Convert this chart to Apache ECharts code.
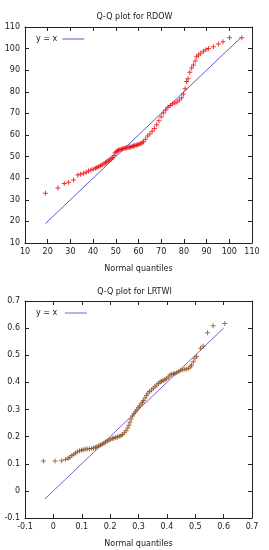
<!DOCTYPE html>
<html><head><meta charset="utf-8">
<script src="https://cdn.jsdelivr.net/npm/echarts@6/dist/echarts.min.js"></script>
<style>html,body{margin:0;padding:0;background:#fff}#c{width:269px;height:550px}</style>
</head><body><div id="c"></div>
<script>
// ---- Data: Q-Q plot for RDOW ----
const rdowQuantiles = [19,24.5,27.3,29.2,31.4,33.3,34.5,35.8,37,38,39,40,41,41.7,42.5,43.3,44,44.8,45.5,46,46.7,47.3,48,48.6,49.2,49.7,50.2,50.7,51.2,51.8,52.4,53,53.6,54.2,54.8,55.4,56,56.6,57.2,57.8,58.4,59,59.6,60.2,60.8,61.5,62.2,63,64,65,66,67,68,69,70,71,72,73,74,75,76,77,78,79,79.8,80.5,81.2,81.8,82.6,83.4,84.2,85,85.6,86.4,87.4,88.6,89.7,90.8,93,95.2,97.2,100.1,105.5];
const rdowValues    = [33,35.5,37.6,38.1,39.2,41.5,41.8,42.3,42.8,43.3,43.8,44.2,44.6,45,45.4,45.8,46.2,46.7,47.1,47.6,48.1,48.5,49,49.6,50.5,51.8,52.2,52.6,53,53.2,53.4,53.6,53.8,54,54.1,54.2,54.3,54.5,54.7,54.9,55.1,55.3,55.5,55.7,55.9,56.4,56.9,58,59.5,60.5,61.7,63,64.8,66.6,68.5,70.2,71.6,72.9,73.7,74.3,74.8,75.3,76.2,77.2,79,81.4,84.8,86,89,91,92.4,94.3,96.2,97,97.8,98.8,99.5,100.1,100.9,102.1,103.2,105,105];
const rdowLine = [19, 105];
const rdowTicks = [10,20,30,40,50,60,70,80,90,100,110];

// ---- Data: Q-Q plot for LRTWI ----
const lrtwiQuantiles = [-0.035,0.006,0.029,0.043,0.052,0.058,0.065,0.072,0.078,0.085,0.092,0.099,0.105,0.112,0.119,0.127,0.135,0.142,0.148,0.154,0.160,0.166,0.172,0.178,0.184,0.190,0.196,0.202,0.208,0.214,0.220,0.226,0.232,0.238,0.244,0.250,0.256,0.262,0.266,0.270,0.274,0.279,0.284,0.289,0.294,0.299,0.304,0.309,0.314,0.318,0.323,0.328,0.333,0.339,0.346,0.352,0.358,0.364,0.370,0.376,0.381,0.387,0.393,0.399,0.405,0.411,0.417,0.423,0.428,0.435,0.442,0.449,0.456,0.463,0.470,0.477,0.483,0.487,0.493,0.499,0.505,0.519,0.528,0.543,0.563,0.604];
const lrtwiValues    = [0.110,0.110,0.111,0.116,0.120,0.124,0.130,0.135,0.140,0.144,0.148,0.150,0.152,0.153,0.154,0.155,0.156,0.158,0.160,0.163,0.166,0.169,0.172,0.176,0.180,0.184,0.187,0.190,0.193,0.195,0.197,0.199,0.201,0.203,0.208,0.214,0.222,0.232,0.242,0.253,0.265,0.276,0.284,0.292,0.299,0.306,0.313,0.320,0.327,0.333,0.342,0.352,0.360,0.366,0.372,0.378,0.384,0.390,0.396,0.401,0.404,0.407,0.410,0.414,0.420,0.427,0.430,0.432,0.433,0.436,0.440,0.445,0.447,0.448,0.449,0.452,0.458,0.464,0.476,0.489,0.495,0.526,0.533,0.583,0.609,0.617];
const lrtwiLine = [-0.03, 0.6];
const lrtwiTicks = [-0.1,0,0.1,0.2,0.3,0.4,0.5,0.6,0.7];

const titles = ['Q-Q plot for RDOW', 'Q-Q plot for LRTWI'];
const xName = 'Normal quantiles';
const legendName = 'y = x';

const pairs = (xs, ys) => xs.map((x, i) => [x, ys[i]]);
const plus = 'path://M0,4H10V6H0Z M4,0H6V10H4Z';
const font = 'DejaVu Sans';
const fs = 8;
const txt = '#1a1a1a';

function axisPair(gi, lo, hi, step, isX) {
  const base = {
    gridIndex: gi, type: 'value', min: lo, max: hi, interval: step,
    axisLine: { show: true, onZero: false, lineStyle: { color: '#222', width: 1 } },
    axisTick: { show: true, inside: true, length: 4, lineStyle: { color: '#222' } },
    splitLine: { show: false }
  };
  const main = Object.assign({}, base, {
    position: isX ? 'bottom' : 'left',
    axisLabel: { show: true, fontFamily: font, fontSize: fs, color: txt, margin: 5,
      formatter: v => String(Math.round(v * 100) / 100) }
  });
  if (isX) { main.name = xName; main.nameLocation = 'middle'; main.nameGap = 22;
    main.nameTextStyle = { fontFamily: font, fontSize: fs, color: txt }; }
  const mirror = Object.assign({}, base, { position: isX ? 'top' : 'right', axisLabel: { show: false } });
  return [main, mirror];
}

const chart = echarts.init(document.getElementById('c'), null, { renderer: 'canvas' });
const xs = [].concat(axisPair(0, rdowTicks[0], rdowTicks[rdowTicks.length-1], 10, true),
                     axisPair(1, lrtwiTicks[0], lrtwiTicks[lrtwiTicks.length-1], 0.1, true));
const ys = [].concat(axisPair(0, rdowTicks[0], rdowTicks[rdowTicks.length-1], 10, false),
                     axisPair(1, lrtwiTicks[0], lrtwiTicks[lrtwiTicks.length-1], 0.1, false));
const lineIcon = 'path://M0,0H22V1H0Z';

chart.setOption({
  animation: false,
  title: [
    { text: titles[0], left: 'center', top: 8, textStyle: { fontFamily: font, fontSize: fs, fontWeight: 'normal', color: txt } },
    { text: titles[1], left: 'center', top: 283, textStyle: { fontFamily: font, fontSize: fs, fontWeight: 'normal', color: txt } }
  ],
  grid: [
    { left: 25, top: 27, width: 227, height: 216 },
    { left: 25, top: 301, width: 227, height: 217 }
  ],
  legend: [
    { data: [legendName], left: 31, top: 30, align: 'right', icon: lineIcon, itemWidth: 22, itemHeight: 1,
      textStyle: { fontFamily: font, fontSize: fs, color: txt } },
    { data: [legendName + ' '], left: 31, top: 304, align: 'right', icon: lineIcon, itemWidth: 22, itemHeight: 1,
      textStyle: { fontFamily: font, fontSize: fs, color: txt } }
  ],
  xAxis: xs,
  yAxis: ys,
  series: [
    { type: 'line', name: legendName, xAxisIndex: 0, yAxisIndex: 0, symbol: 'none',
      data: pairs(rdowLine, rdowLine), lineStyle: { color: '#5a5ad2', width: 1 }, itemStyle: { color: '#5a5ad2' }, z: 3 },
    { type: 'scatter', name: 'RDOW', xAxisIndex: 0, yAxisIndex: 0, symbol: plus, symbolSize: 5,
      data: pairs(rdowQuantiles, rdowValues), itemStyle: { color: '#f00000' }, z: 4 },
    { type: 'line', name: legendName + ' ', xAxisIndex: 2, yAxisIndex: 2, symbol: 'none',
      data: pairs(lrtwiLine, lrtwiLine), lineStyle: { color: '#7b5ddc', width: 1 }, itemStyle: { color: '#7b5ddc' }, z: 3 },
    { type: 'scatter', name: 'LRTWI', xAxisIndex: 2, yAxisIndex: 2, symbol: plus, symbolSize: 5,
      data: pairs(lrtwiQuantiles, lrtwiValues), itemStyle: { color: '#8c4a18' }, z: 4 }
  ]
});
</script></body></html>
